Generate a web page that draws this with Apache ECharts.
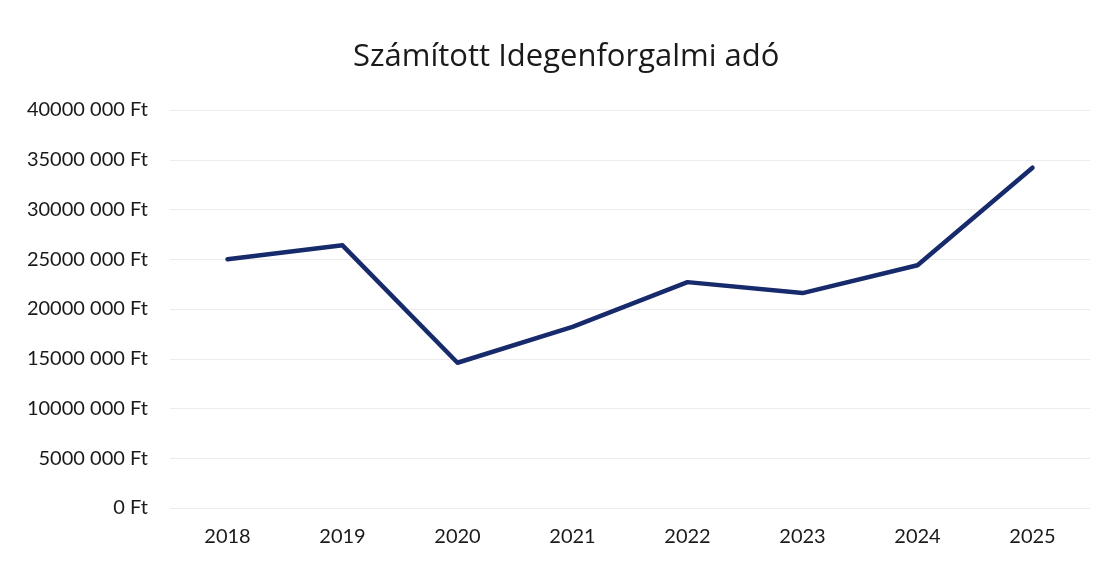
<!DOCTYPE html>
<html>
<head>
<meta charset="utf-8">
<script src="https://cdn.jsdelivr.net/npm/echarts@6/dist/echarts.min.js"></script>
<style>
  html, body { margin: 0; padding: 0; background: #fff; }
  #chart { width: 1104px; height: 562px; }
</style>
</head>
<body>
<div id="chart"></div>
<script>
const years = ['2018', '2019', '2020', '2021', '2022', '2023', '2024', '2025'];
const taxValues = [25000000, 26400000, 14600000, 18200000, 22700000, 21600000, 24400000, 34200000];

// "40000 000 Ft" style: only the last group separated
function formatFt(v) {
  if (v === 0) return '0 Ft';
  const s = String(v);
  return s.slice(0, -3) + ' ' + s.slice(-3) + ' Ft';
}

const chart = echarts.init(document.getElementById('chart'));
chart.setOption({
  animation: false,
  textStyle: { fontFamily: 'Lato, "Open Sans", sans-serif' },
  title: {
    text: 'Számított Idegenforgalmi adó',
    left: 348,
    top: 37,
    textStyle: { fontSize: 31, fontWeight: 'normal', color: '#1a1a1a', fontFamily: '"Open Sans", Lato, sans-serif' }
  },
  grid: { left: 170, right: 14, top: 110, bottom: 54 },
  xAxis: {
    type: 'category',
    data: years,
    axisLine: { show: false },
    axisTick: { show: false },
    axisLabel: { color: '#1a1a1a', fontSize: 20, margin: 19 }
  },
  yAxis: {
    type: 'value',
    min: 0,
    max: 40000000,
    interval: 5000000,
    axisLine: { show: false },
    axisTick: { show: false },
    splitLine: { lineStyle: { color: '#ececec', width: 1 } },
    axisLabel: { color: '#1a1a1a', fontSize: 20, margin: 22, formatter: formatFt }
  },
  series: [{
    type: 'line',
    data: taxValues,
    symbol: 'none',
    lineStyle: { color: '#172a6b', width: 4.5, cap: 'round', join: 'round' }
  }]
});
</script>
</body>
</html>
